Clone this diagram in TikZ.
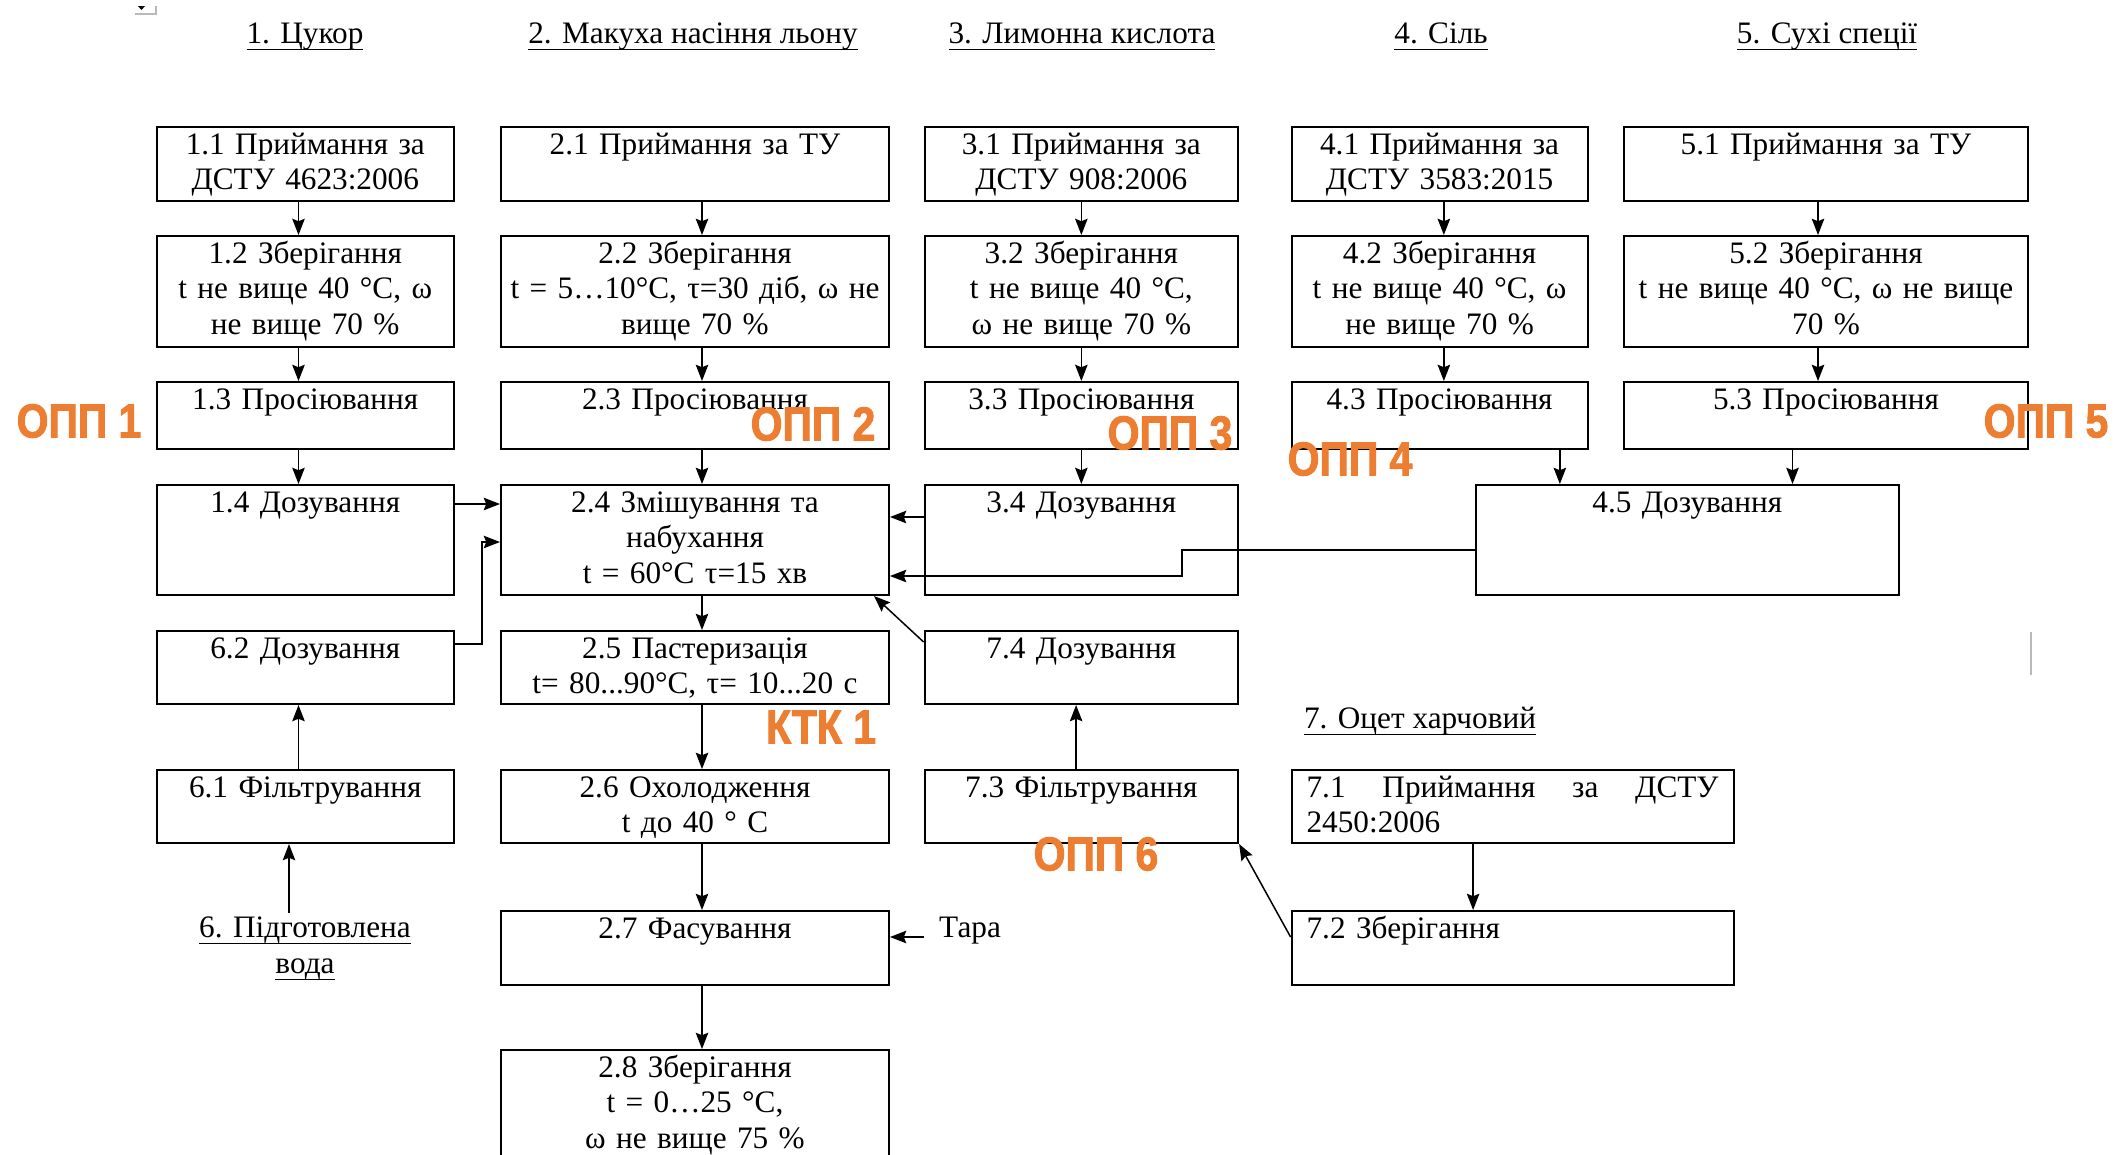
\documentclass[tikz,border=0pt]{standalone}
\usepackage{fontspec}
\setmainfont{Liberation Serif}
\newfontfamily\markfont[FakeStretch=0.86, BoldFeatures={FakeBold=2}]{Liberation Sans}
\usetikzlibrary{arrows.meta}

\definecolor{oppcolor}{HTML}{ED7D31}
\newcommand{\boxfont}{\fontsize{12.5pt}{14.2pt}\selectfont}
\newcommand{\undl}[1]{\underline{\smash{#1}\rule[-1pt]{0pt}{1pt}}}

\tikzset{
  stage/.style 2 args={draw, line width=0.8pt, anchor=north west, inner xsep=3pt, inner ysep=0pt,
    text width=#1, text height=10.8pt, text depth=#2, align=center, font=\boxfont},
  title/.style={anchor=base, inner sep=0pt, font=\boxfont},
  flow/.style={-{Stealth[length=6.5pt, width=5pt, inset=1pt]}, line width=0.6pt},
  cpoint/.style={inner sep=0pt, text=oppcolor, font=\markfont\bfseries\fontsize{19pt}{19pt}\selectfont},
}

\begin{document}
\begin{tikzpicture}[x=0.4pt, y=-0.4pt]
    \useasboundingbox (0,0) rectangle (2121,1154);

    % raw materials
    \node[title] (t1) at (305,43)  {\undl{1. Цукор}};
    \node[title] (t2) at (693,43)  {\undl{2. Макуха насіння льону}};
    \node[title] (t3) at (1082,43) {\undl{3. Лимонна кислота}};
    \node[title] (t4) at (1441,43) {\undl{4. Сіль}};
    \node[title] (t5) at (1827,43) {\undl{5. Сухі спеції}};
    \node[title] (t7) at (1420,728) {\undl{7. Оцет харчовий}};
    \node[title, anchor=north, align=center] (water) at (305,937) {\undl{6. Підготовлена}\\\undl{вода}};
    \node[title] (tara) at (970,937) {Тара};

    % row 1
    \node[stage={113pt}{18.8pt}]   (b11) at (155.5,126)  {1.1 Приймання за\\ДСТУ 4623:2006};
    \node[stage={149.2pt}{18.8pt}] (b21) at (500,126)    {2.1 Приймання за ТУ};
    \node[stage={119.4pt}{18.8pt}] (b31) at (923.6,126)  {3.1 Приймання за\\ДСТУ 908:2006};
    \node[stage={112.4pt}{18.8pt}] (b41) at (1290.6,126) {4.1 Приймання за\\ДСТУ 3583:2015};
    \node[stage={155.6pt}{18.8pt}] (b51) at (1623,126)   {5.1 Приймання за ТУ};

    % row 2
    \node[stage={113pt}{33.6pt}]   (b12) at (155.5,235)  {1.2 Зберігання\\t не вище 40 °C, ω\\не вище 70 \%};
    \node[stage={149.2pt}{33.6pt}] (b22) at (500,235)    {2.2 Зберігання\\t = 5…10°C, τ=30 діб, ω не\\вище 70 \%};
    \node[stage={119.4pt}{33.6pt}] (b32) at (923.6,235)  {3.2 Зберігання\\t не вище 40 °C,\\ω не вище 70 \%};
    \node[stage={112.4pt}{33.6pt}] (b42) at (1290.6,235) {4.2 Зберігання\\t не вище 40 °C, ω\\не вище 70 \%};
    \node[stage={155.6pt}{33.6pt}] (b52) at (1623,235)   {5.2 Зберігання\\t не вище 40 °C, ω не вище\\70 \%};

    % row 3
    \node[stage={113pt}{16pt}]   (b13) at (155.5,381)  {1.3 Просіювання};
    \node[stage={149.2pt}{16pt}] (b23) at (500,381)    {2.3 Просіювання};
    \node[stage={119.4pt}{16pt}] (b33) at (923.6,381)  {3.3 Просіювання};
    \node[stage={112.4pt}{16pt}] (b43) at (1290.6,381) {4.3 Просіювання};
    \node[stage={155.6pt}{16pt}] (b53) at (1623,381)   {5.3 Просіювання};

    % row 4
    \node[stage={113pt}{33.2pt}]   (b14) at (155.5,484)  {1.4 Дозування};
    \node[stage={149.2pt}{33.2pt}] (b24) at (500,484)    {2.4 Змішування та\\набухання\\t = 60°C τ=15 хв};
    \node[stage={119.4pt}{33.2pt}] (b34) at (923.6,484)  {3.4 Дозування};
    \node[stage={163.4pt}{33.2pt}] (b45) at (1474.5,484) {4.5 Дозування};

    % row 5
    \node[stage={113pt}{18.4pt}]   (b62) at (155.5,630)  {6.2 Дозування};
    \node[stage={149.2pt}{18.4pt}] (b25) at (500,630)    {2.5 Пастеризація\\t= 80...90°C, τ= 10...20 с};
    \node[stage={119.4pt}{18.4pt}] (b74) at (923.6,630)  {7.4 Дозування};

    % row 6
    \node[stage={113pt}{18.4pt}]   (b61) at (155.5,769)  {6.1 Фільтрування};
    \node[stage={149.2pt}{18.4pt}] (b26) at (500,769)    {2.6 Охолодження\\t до 40 ° C};
    \node[stage={119.4pt}{18.4pt}] (b73) at (923.6,769)  {7.3 Фільтрування};
    \node[stage={164.8pt}{18.4pt}, inner xsep=6pt, align=justify] (b71) at (1290.6,769) {7.1 Приймання за ДСТУ\linebreak 2450:2006};

    % row 7, 8
    \node[stage={149.2pt}{18.8pt}] (b27) at (500,910)    {2.7 Фасування};
    \node[stage={164.8pt}{18.8pt}, inner xsep=6pt, align=left] (b72) at (1290.6,910) {7.2 Зберігання};
    \node[stage={149.2pt}{49.2pt}] (b28) at (500,1049)   {2.8 Зберігання\\t = 0…25 °C,\\ω не вище 75 \%};

    % straight runs down the columns
    \draw[flow] ([xshift=-2.7pt]b11.south) -- ([xshift=-2.7pt]b12.north);
    \draw[flow] ([xshift=-2.7pt]b12.south) -- ([xshift=-2.7pt]b13.north);
    \draw[flow] ([xshift=-2.7pt]b13.south) -- ([xshift=-2.7pt]b14.north);
    \draw[flow] ([xshift=-2.7pt]b61.north) -- ([xshift=-2.7pt]b62.south);

    \draw[flow] ([xshift=2.8pt]b21.south) -- ([xshift=2.8pt]b22.north);
    \draw[flow] ([xshift=2.8pt]b22.south) -- ([xshift=2.8pt]b23.north);
    \draw[flow] ([xshift=2.8pt]b23.south) -- ([xshift=2.8pt]b24.north);
    \draw[flow] ([xshift=2.8pt]b24.south) -- ([xshift=2.8pt]b25.north);
    \draw[flow] ([xshift=2.8pt]b25.south) -- ([xshift=2.8pt]b26.north);
    \draw[flow] ([xshift=2.8pt]b26.south) -- ([xshift=2.8pt]b27.north);
    \draw[flow] ([xshift=2.8pt]b27.south) -- ([xshift=2.8pt]b28.north);

    \draw[flow] (b31) -- (b32);
    \draw[flow] (b32) -- (b33);
    \draw[flow] (b33) -- (b34);
    \draw[flow] ([xshift=-2.1pt]b73.north) -- ([xshift=-2.1pt]b74.south);

    \draw[flow] ([xshift=1.7pt]b41.south) -- ([xshift=1.7pt]b42.north);
    \draw[flow] ([xshift=1.7pt]b42.south) -- ([xshift=1.7pt]b43.north);

    \draw[flow] ([xshift=-3.2pt]b51.south) -- ([xshift=-3.2pt]b52.north);
    \draw[flow] ([xshift=-3.2pt]b52.south) -- ([xshift=-3.2pt]b53.north);

    \coordinate (s43) at ([xshift=48.1pt]b43.south);
    \coordinate (s53) at ([xshift=-13.4pt]b53.south);
    \draw[flow] (s43) -- (s43 |- b45.north);
    \draw[flow] (s53) -- (s53 |- b45.north);

    \coordinate (s71) at ([xshift=-15.8pt]b71.south);
    \draw[flow] (s71) -- (s71 |- b72.north);

    % feeds into the mixing step
    \coordinate (s14) at ([yshift=-8pt]b14.north east);
    \draw[flow] (s14) -- (s14 -| b24.west);
    \coordinate (s62) at ([yshift=-5.6pt]b62.north east);
    \coordinate (e62) at ([yshift=-23.2pt]b24.north west);
    \draw[flow] (s62) -- ++(10.8pt,0) |- (e62);
    \coordinate (s34) at ([yshift=-13.2pt]b34.north west);
    \draw[flow] (s34) -- (s34 -| b24.east);
    \coordinate (s45) at ([yshift=-26.4pt]b45.north west);
    \coordinate (e45) at ([yshift=-36.8pt]b24.north east);
    \draw[flow] (s45) -- ++(-117.1pt,0) |- (e45);
    \coordinate (s74) at ([yshift=-4.8pt]b74.north west);
    \draw[flow] (s74) -- ([xshift=-6.4pt]b24.south east);

    \coordinate (s72) at ([yshift=-10.8pt]b72.north west);
    \draw[flow] (s72) -- (b73.south east);
    \coordinate (stara) at ([xshift=-5.8pt]tara.base west);
    \draw[flow] (stara) -- (stara -| b27.east);
    \coordinate (swater) at ([xshift=-6.4pt,yshift=9.6pt]water.north);
    \draw[flow] (swater) -- (swater |- b61.south);

    % control points
    \node[cpoint] (opp1) at (79,421)   {ОПП 1};
    \node[cpoint] (opp2) at (813,424)  {ОПП 2};
    \node[cpoint] (opp3) at (1170,433) {ОПП 3};
    \node[cpoint] (opp4) at (1350,459) {ОПП 4};
    \node[cpoint] (opp5) at (2046,421) {ОПП 5};
    \node[cpoint] (ktk1) at (821,727)  {КТК 1};
    \node[cpoint] (opp6) at (1096,854) {ОПП 6};

    % editor marks
    \draw[gray!55, line width=0.8pt] (135,14) -- (156,14) -- (156,6);
    \fill (138,6) -- (145,6) -- (141.5,10) -- cycle;
    \draw[gray!55, line width=1pt] (2031,632) -- (2031,675);

\end{tikzpicture}
\end{document}
